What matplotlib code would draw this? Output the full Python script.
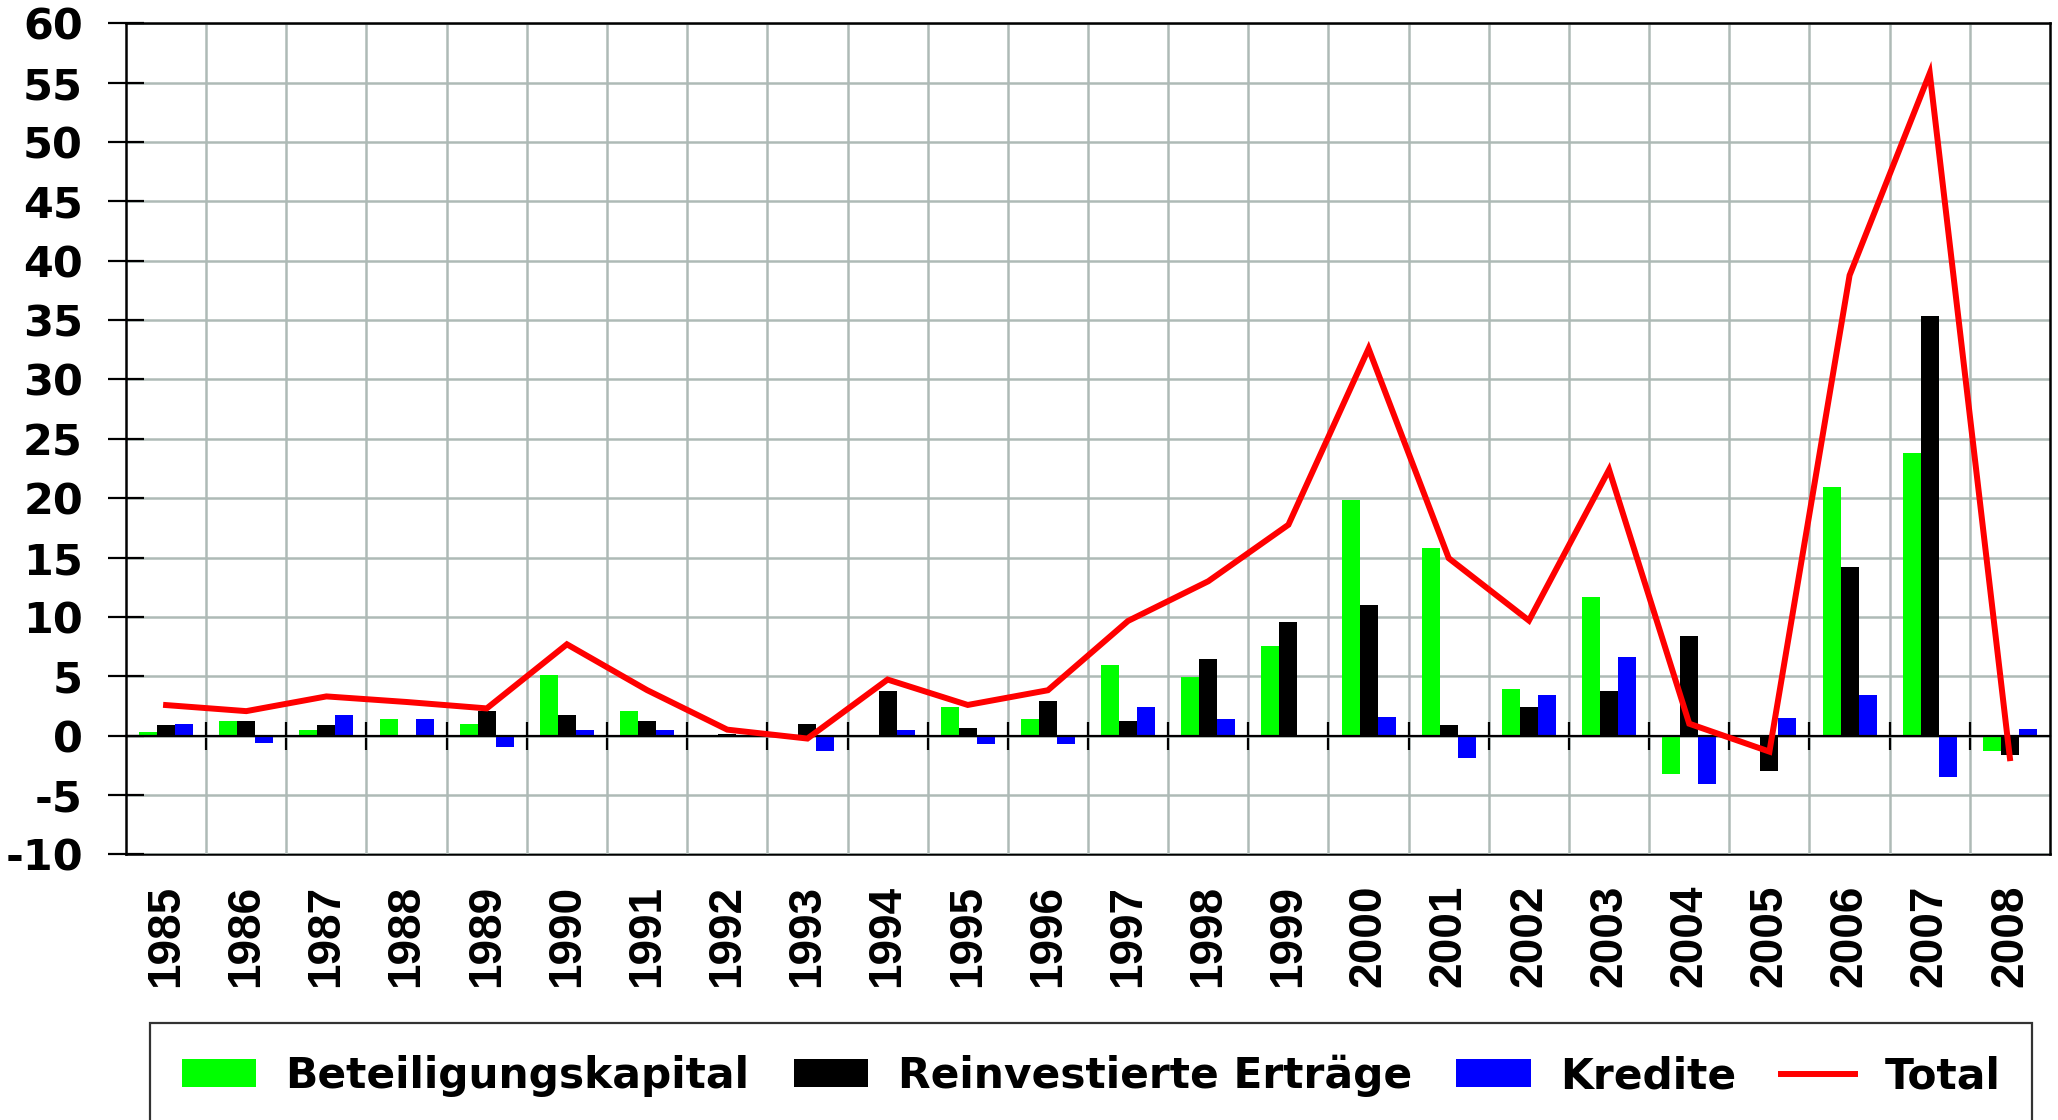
import matplotlib
matplotlib.use("Agg")
import matplotlib.pyplot as plt
import numpy as np

years = ["1985", "1986", "1987", "1988", "1989", "1990", "1991", "1992",
         "1993", "1994", "1995", "1996", "1997", "1998", "1999", "2000",
         "2001", "2002", "2003", "2004", "2005", "2006", "2007", "2008"]

beteiligung = [0.26, 1.2, 0.43, 1.37, 0.94, 5.14, 2.06, 0.0,
               0.0, 0.05, 2.4, 1.4, 5.96, 4.94, 7.56, 19.86,
               15.8, 3.9, 11.64, -3.25, 0.0, 20.9, 23.84, -1.32]
reinvestiert = [0.86, 1.2, 0.86, 0.0, 2.06, 1.71, 1.2, 0.1,
                0.95, 3.76, 0.65, 2.9, 1.24, 6.46, 9.58, 10.96,
                0.88, 2.4, 3.76, 8.42, -2.95, 14.2, 35.35, -1.6]
kredite = [0.94, -0.6, 1.71, 1.37, -0.94, 0.43, 0.43, 0.05,
           -1.3, 0.48, -0.7, -0.7, 2.4, 1.4, 0.08, 1.55,
           -1.9, 3.42, 6.64, -4.1, 1.5, 3.42, -3.45, 0.55]
total = [2.57, 2.06, 3.3, 2.83, 2.29, 7.69, 3.83, 0.5,
         -0.25, 4.72, 2.58, 3.82, 9.66, 13.0, 17.76, 32.6,
         14.94, 9.69, 22.4, 1.0, -1.35, 38.77, 55.8, -1.9]

plt.rcParams['font.family'] = ['DejaVu Sans']
plt.rcParams['font.weight'] = 'bold'
plt.rcParams['axes.unicode_minus'] = False

fs = 30.5
n = len(years)
x = np.arange(n)
w = 0.225

fig = plt.figure(figsize=(20.58, 11.2), dpi=100)
ax = fig.add_axes([126/2058, 1-854.3/1120, (2050-126)/2058, (854.3-23.3)/1120])

b1 = ax.bar(x - w, beteiligung, w, color='#00ff00', label='Beteiligungskapital', zorder=1)
b2 = ax.bar(x, reinvestiert, w, color='black', label='Reinvestierte Erträge', zorder=1)
b3 = ax.bar(x + w, kredite, w, color='#0000ff', label='Kredite', zorder=1)
l1, = ax.plot(x, total, color='#ff0000', lw=4.3, label='Total', zorder=4,
              solid_joinstyle='miter')

ax.set_xlim(-0.5, n - 0.5)
ax.set_ylim(-10, 60)
ax.set_yticks(np.arange(-10, 61, 5))
ax.set_axisbelow(True)

# x axis at zero with ticks at category boundaries
ax.spines['bottom'].set_position(('data', 0))
ax.spines['bottom'].set_linewidth(1.6)
ax.spines['bottom'].set_zorder(3)
ax.set_xticks(np.arange(0.5, n - 0.5, 1))
ax.set_xticklabels([])
ax.tick_params(axis='x', direction='inout', length=20, width=1.6)
ax.tick_params(axis='y', direction='inout', length=26, width=1.6,
               labelsize=31, pad=18)
for lab in ax.get_yticklabels():
    lab.set_fontweight('bold')

for s in ['left', 'right', 'top']:
    ax.spines[s].set_linewidth(1.8)

ax.grid(True, color='#aebab6', linewidth=1.8)

# year labels under the frame
sec = ax.secondary_xaxis('bottom')
sec.set_xticks(x)
sec.set_xticklabels(years, rotation=90, fontsize=33, fontweight='bold',
                    family=['Liberation Sans'])
sec.tick_params(length=0, pad=22)
sec.spines['bottom'].set_linewidth(1.8)

leg = fig.legend(handles=[b1, b2, b3, l1],
                 loc='upper left', bbox_to_anchor=(150/2058, 1-1023/1120),
                 ncol=4, frameon=True, fancybox=False,
                 edgecolor='black', borderaxespad=0, borderpad=0.75,
                 handlelength=1.75, handleheight=0.65, handletextpad=0.7,
                 columnspacing=1.05, prop={'weight': 'bold', 'size': fs})
leg.get_frame().set_linewidth(1.6)

fig.savefig("out.png", dpi=100)
